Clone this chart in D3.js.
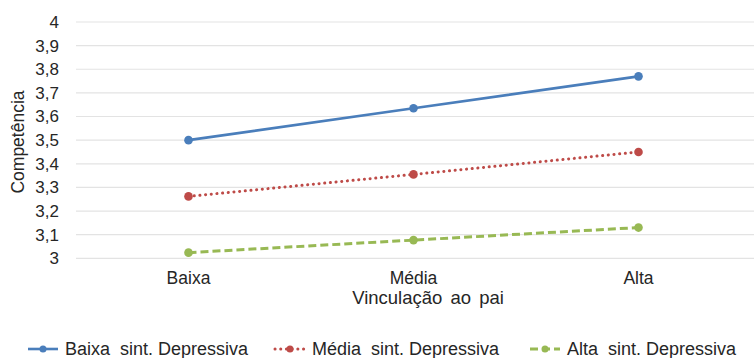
<!DOCTYPE html>
<html>
<head>
<meta charset="utf-8">
<script src="https://cdn.jsdelivr.net/npm/d3@7"></script>
<style>
  html, body { margin: 0; padding: 0; background: #fff; }
  svg { display: block; font-family: "Liberation Sans", Arial, sans-serif; }
</style>
</head>
<body>
<svg id="chart" width="754" height="358"></svg>
<script>
// Categories on the x axis (father attachment level)
const categories = ["Baixa", "Média", "Alta"];

// Competence means per depressive-symptom level
const baixaSint = [3.50, 3.635, 3.77];
const mediaSint = [3.262, 3.355, 3.45];
const altaSint  = [3.024, 3.077, 3.13];

const seriesNames = ["Baixa  sint. Depressiva", "Média  sint. Depressiva", "Alta  sint. Depressiva"];

const yTicks = [3, 3.1, 3.2, 3.3, 3.4, 3.5, 3.6, 3.7, 3.8, 3.9, 4];

const series = [
  { name: seriesNames[0], values: baixaSint, color: "#4a7ebb", dash: null, cap: "butt" },
  { name: seriesNames[1], values: mediaSint, color: "#be4b48", dash: "0.1 5.6", cap: "round" },
  { name: seriesNames[2], values: altaSint,  color: "#98b954", dash: "8 4", cap: "butt" }
];

const svg = d3.select("#chart");
const plot = { left: 76, right: 751, top: 22, bottom: 258.3 };

const x = d3.scaleBand().domain(categories).range([plot.left, plot.right]);
const y = d3.scaleLinear().domain([3, 4]).range([plot.bottom, plot.top]);
const fmt = d => d3.format(".1~f")(d).replace(".", ",");

// Horizontal gridlines
svg.append("g")
  .selectAll("line")
  .data(yTicks)
  .join("line")
  .attr("x1", plot.left).attr("x2", plot.right + 3)
  .attr("y1", d => y(d)).attr("y2", d => y(d))
  .attr("stroke", "#e3e3e3").attr("stroke-width", 1.2);

// Y axis labels
const yAxis = svg.append("g")
  .attr("transform", `translate(${plot.left - 17},0)`)
  .call(d3.axisLeft(y).tickValues(yTicks).tickFormat(fmt).tickSize(0).tickPadding(0));
yAxis.select(".domain").remove();
yAxis.selectAll("text")
  .attr("font-size", 17).attr("fill", "#262626")
  .attr("font-family", "Liberation Sans, Arial, sans-serif");

// X axis labels
const xAxis = svg.append("g")
  .attr("transform", `translate(0,${plot.bottom})`)
  .call(d3.axisBottom(x).tickSize(0).tickPadding(13));
xAxis.select(".domain").remove();
xAxis.selectAll("text")
  .attr("font-size", 17.5).attr("fill", "#262626")
  .attr("font-family", "Liberation Sans, Arial, sans-serif");

// Axis titles
svg.append("text")
  .attr("x", 428).attr("y", 304)
  .attr("text-anchor", "middle")
  .attr("font-size", 18.5).attr("fill", "#262626")
  .attr("word-spacing", 3)
  .text("Vinculação ao pai");

svg.append("text")
  .attr("transform", "translate(24,142) rotate(-90)")
  .attr("text-anchor", "middle")
  .attr("font-size", 17.5).attr("fill", "#262626")
  .text("Competência");

// Series lines and markers
const line = d3.line()
  .x((d, i) => x(categories[i]) + x.bandwidth() / 2)
  .y(d => y(d));

series.forEach(s => {
  svg.append("path")
    .datum(s.values)
    .attr("d", line)
    .attr("fill", "none")
    .attr("stroke", s.color)
    .attr("stroke-width", s.dash ? 3 : 2.6)
    .attr("stroke-linecap", s.cap)
    .attr("stroke-dasharray", s.dash);
  svg.append("g")
    .selectAll("circle")
    .data(s.values)
    .join("circle")
    .attr("cx", (d, i) => x(categories[i]) + x.bandwidth() / 2)
    .attr("cy", d => y(d))
    .attr("r", 4.3)
    .attr("fill", s.color);
});

// Legend
const legendX = [28, 275, 530];
const legendY = 349;
series.forEach((s, i) => {
  const g = svg.append("g").attr("transform", `translate(${legendX[i]},${legendY})`);
  g.append("line")
    .attr("x1", 0).attr("x2", 30).attr("y1", 0).attr("y2", 0)
    .attr("stroke", s.color).attr("stroke-width", s.dash ? 3 : 2.6)
    .attr("stroke-linecap", s.cap)
    .attr("stroke-dasharray", s.dash);
  g.append("circle").attr("cx", 15).attr("cy", 0).attr("r", 3.5).attr("fill", s.color);
  g.append("text")
    .attr("x", 37).attr("y", 5.5)
    .attr("font-size", 18).attr("fill", "#262626")
    .attr("xml:space", "preserve")
    .style("white-space", "pre")
    .text(s.name);
});
</script>
</body>
</html>
